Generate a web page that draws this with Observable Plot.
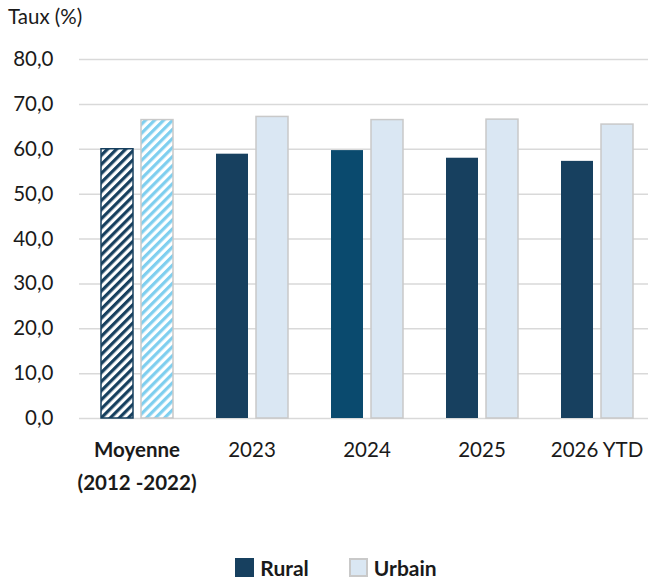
<!DOCTYPE html>
<html>
<head>
<meta charset="utf-8">
<script src="https://cdn.jsdelivr.net/npm/d3@7"></script>
<script src="https://cdn.jsdelivr.net/npm/@observablehq/plot@0.6"></script>
<style>
  html, body { margin: 0; padding: 0; background: #fff; }
  body { width: 648px; height: 582px; position: relative; font-family: Lato, "Open Sans", sans-serif; color: #1a1a1a; overflow: hidden; }
  #title { position: absolute; left: 8px; top: 4px; font-size: 20.5px; }
  #chart { position: absolute; left: 0; top: 0; }
  #legend { position: absolute; top: 555px; left: 0; width: 648px; display: flex; justify-content: center; gap: 40px; font-size: 21px; font-weight: bold; margin-left: 12px; }
  .item { display: flex; align-items: center; gap: 6px; }
  .sw { width: 19px; height: 19px; box-sizing: border-box; display: inline-block; }
</style>
</head>
<body>
<div id="chart"></div>
<div id="title">Taux (%)</div>
<div id="legend">
  <span class="item"><span class="sw" style="background:#17405f"></span>Rural</span>
  <span class="item"><span class="sw" style="background:#dae7f3;border:2px solid #c9c9c9"></span>Urbain</span>
</div>
<script>
const groups = ["Moyenne\n(2012 -2022)", "2023", "2024", "2025", "2026 YTD"];
const series = ["Rural", "Urbain"];
const rural = [60.0, 58.9, 59.7, 58.0, 57.3];
const urbain = [66.5, 67.2, 66.5, 66.6, 65.5];
const yTicks = [0, 10, 20, 30, 40, 50, 60, 70, 80];

const data = [];
groups.forEach((g, i) => {
  data.push({group: g, serie: "Rural", value: rural[i], i});
  data.push({group: g, serie: "Urbain", value: urbain[i], i});
});

const fillOf = d => {
  if (d.i === 0) return d.serie === "Rural" ? "url(#hatchRural)" : "url(#hatchUrbain)";
  if (d.serie === "Urbain") return "#dae7f3";
  return d.group === "2024" ? "#0a4a6e" : "#17405f";
};
const strokeOf = d => d.serie === "Urbain" ? "#c9c9c9" : (d.i === 0 ? "#17405f" : "none");

const fmt = v => v.toFixed(1).replace(".", ",");

const chart = Plot.plot({
  width: 648,
  height: 510,
  marginLeft: 78,
  marginRight: -6,
  marginTop: 59,
  marginBottom: 92,
  style: {fontFamily: "Lato, 'Open Sans', sans-serif", fontSize: "20.5px", color: "#1a1a1a", overflow: "visible"},
  fx: {domain: groups, paddingInner: 0, paddingOuter: 0, label: null},
  x: {domain: series, paddingInner: 0.2, paddingOuter: 0.525, axis: null},
  y: {domain: [0, 80], ticks: yTicks, label: null},
  marks: [
    Plot.gridY(yTicks, {stroke: "#d9d9d9", strokeOpacity: 1, strokeWidth: 1.5}),
    Plot.axisY(yTicks, {tickSize: 0, tickPadding: 26, tickFormat: fmt, fontSize: 20.5, label: null}),
    Plot.axisFx({anchor: "bottom", tickSize: 0, tickPadding: 15, lineHeight: 1.6, fontSize: 20.5, label: null}),
    Plot.barY(data, {fx: "group", x: "serie", y: "value", fill: fillOf, stroke: strokeOf, strokeWidth: 1.5})
  ]
});

// hatch patterns
const ns = "http://www.w3.org/2000/svg";
const defs = document.createElementNS(ns, "defs");
[["hatchRural", "#17405f"], ["hatchUrbain", "#7fcfef"]].forEach(([id, col]) => {
  const p = document.createElementNS(ns, "pattern");
  p.setAttribute("id", id);
  p.setAttribute("patternUnits", "userSpaceOnUse");
  p.setAttribute("width", "6.4");
  p.setAttribute("height", "6.4");
  p.setAttribute("patternTransform", "rotate(45)");
  const bg = document.createElementNS(ns, "rect");
  bg.setAttribute("width", "6.4"); bg.setAttribute("height", "6.4"); bg.setAttribute("fill", "#fff");
  const r = document.createElementNS(ns, "rect");
  r.setAttribute("width", "3.2"); r.setAttribute("height", "6.4"); r.setAttribute("fill", col);
  p.appendChild(bg); p.appendChild(r);
  defs.appendChild(p);
});
chart.insertBefore(defs, chart.firstChild);

// bold first category label
chart.querySelectorAll('text').forEach(t => {
  if (t.textContent.startsWith("Moyenne")) t.setAttribute("font-weight", "bold");
});

document.getElementById("chart").appendChild(chart);
</script>
</body>
</html>
